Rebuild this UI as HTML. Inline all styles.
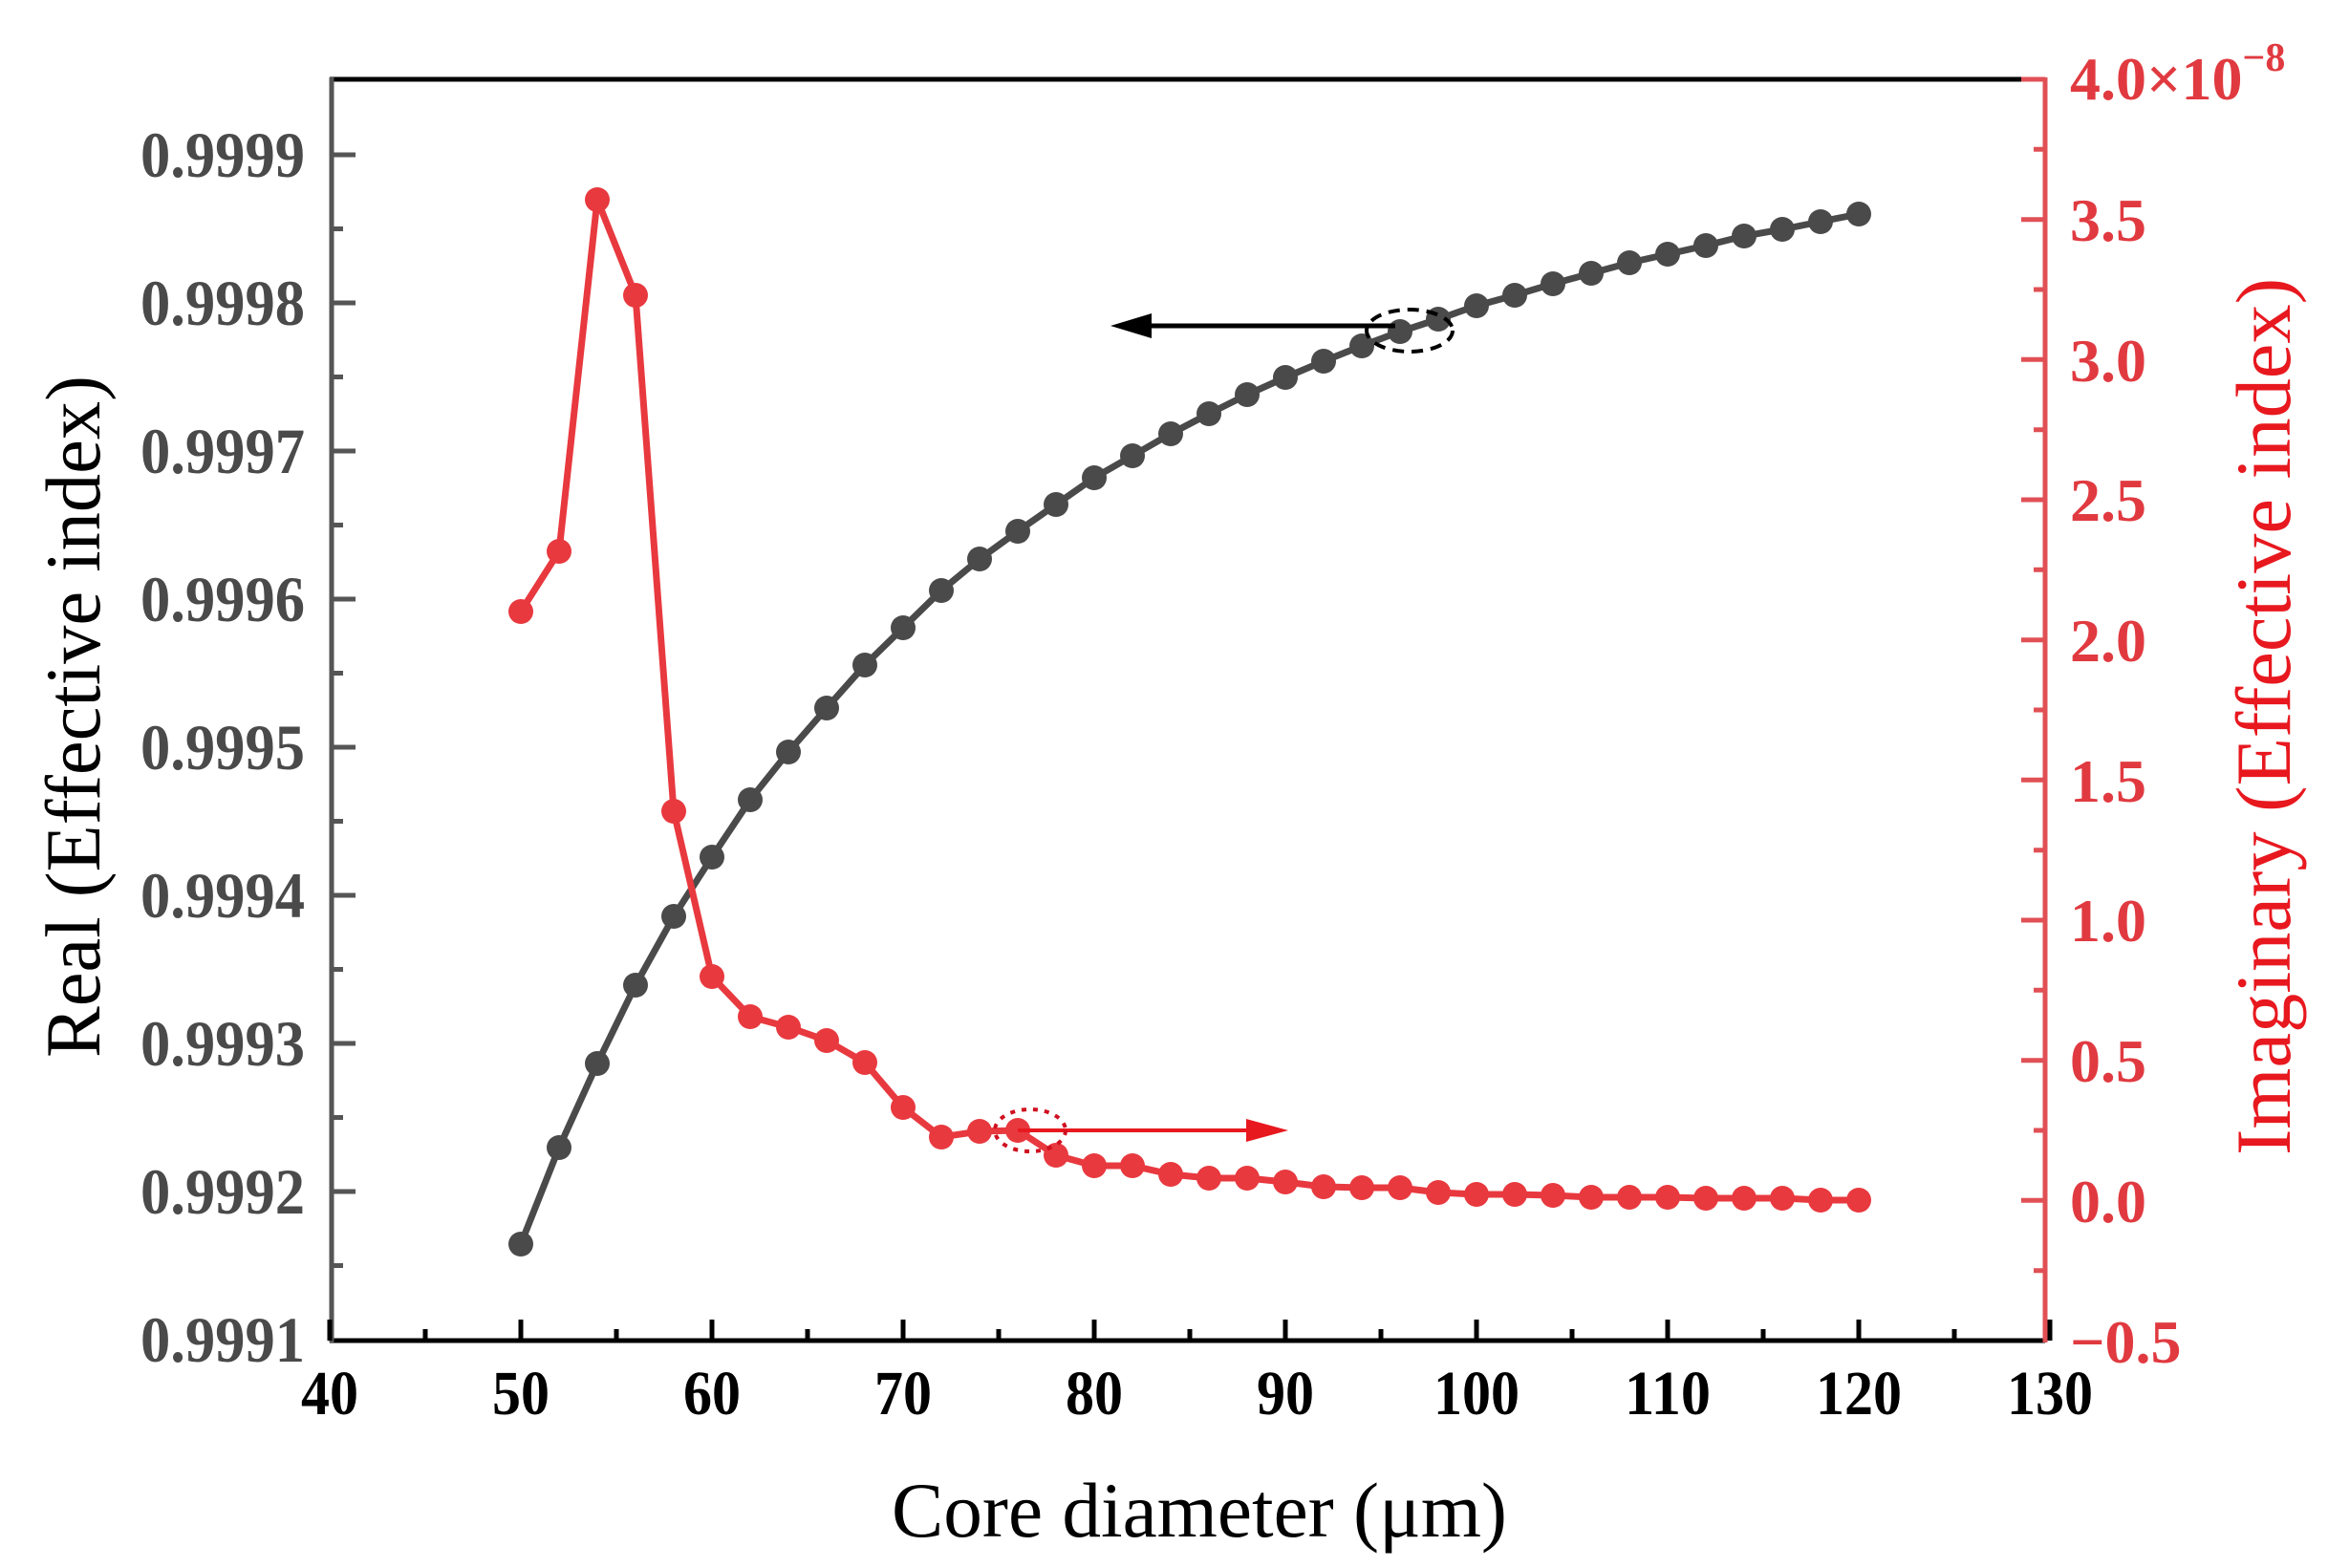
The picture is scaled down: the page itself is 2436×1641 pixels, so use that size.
<!DOCTYPE html>
<html><head><meta charset="utf-8"><style>html,body{margin:0;padding:0;background:#fff}svg{display:block}</style></head>
<body>
<svg width="2436" height="1641" viewBox="0 0 2436 1641" xmlns="http://www.w3.org/2000/svg" font-family="'Liberation Serif', serif">
<rect width="2436" height="1641" fill="#fff"/>
<!-- series black -->
<g fill="#4a4a4a" stroke="#4a4a4a">
<polyline fill="none" stroke-width="7" points="545,1302 585,1201 625,1113 665,1031 705,959 745,897 785,837 825,787 865,741 905,696 945,657 985,618 1025,585 1065,556 1105,528 1145,500 1185,477 1225,454 1265,433 1305,413 1345,395 1385,378 1425,362 1465,347 1505,334 1545,320 1585,309 1625,297 1665,286 1705,275 1745,266 1785,257 1825,247 1865,240 1905,232 1945,224"/>
<g stroke="none">
<circle cx="545" cy="1302" r="13"/><circle cx="585" cy="1201" r="13"/><circle cx="625" cy="1113" r="13"/><circle cx="665" cy="1031" r="13"/><circle cx="705" cy="959" r="13"/><circle cx="745" cy="897" r="13"/><circle cx="785" cy="837" r="13"/><circle cx="825" cy="787" r="13"/><circle cx="865" cy="741" r="13"/><circle cx="905" cy="696" r="13"/><circle cx="945" cy="657" r="13"/><circle cx="985" cy="618" r="13"/><circle cx="1025" cy="585" r="13"/><circle cx="1065" cy="556" r="13"/><circle cx="1105" cy="528" r="13"/><circle cx="1145" cy="500" r="13"/><circle cx="1185" cy="477" r="13"/><circle cx="1225" cy="454" r="13"/><circle cx="1265" cy="433" r="13"/><circle cx="1305" cy="413" r="13"/><circle cx="1345" cy="395" r="13"/><circle cx="1385" cy="378" r="13"/><circle cx="1425" cy="362" r="13"/><circle cx="1465" cy="347" r="13"/><circle cx="1505" cy="334" r="13"/><circle cx="1545" cy="320" r="13"/><circle cx="1585" cy="309" r="13"/><circle cx="1625" cy="297" r="13"/><circle cx="1665" cy="286" r="13"/><circle cx="1705" cy="275" r="13"/><circle cx="1745" cy="266" r="13"/><circle cx="1785" cy="257" r="13"/><circle cx="1825" cy="247" r="13"/><circle cx="1865" cy="240" r="13"/><circle cx="1905" cy="232" r="13"/><circle cx="1945" cy="224" r="13"/>
</g></g>
<!-- series red -->
<g fill="#e8393f" stroke="#e8393f">
<polyline fill="none" stroke-width="7" points="545,640 585,577 625,209 665,309 705,849 745,1022 785,1064 825,1075 865,1089 905,1112 945,1159 985,1190 1025,1184 1065,1183 1105,1209 1145,1220 1185,1220 1225,1229 1265,1233 1305,1233 1345,1237 1385,1242 1425,1243 1465,1243 1505,1248 1545,1250 1585,1250 1625,1251 1665,1253 1705,1253 1745,1253 1785,1254 1825,1254 1865,1254 1905,1256 1945,1256"/>
<g stroke="none">
<circle cx="545" cy="640" r="13"/><circle cx="585" cy="577" r="13"/><circle cx="625" cy="209" r="13"/><circle cx="665" cy="309" r="13"/><circle cx="705" cy="849" r="13"/><circle cx="745" cy="1022" r="13"/><circle cx="785" cy="1064" r="13"/><circle cx="825" cy="1075" r="13"/><circle cx="865" cy="1089" r="13"/><circle cx="905" cy="1112" r="13"/><circle cx="945" cy="1159" r="13"/><circle cx="985" cy="1190" r="13"/><circle cx="1025" cy="1184" r="13"/><circle cx="1065" cy="1183" r="13"/><circle cx="1105" cy="1209" r="13"/><circle cx="1145" cy="1220" r="13"/><circle cx="1185" cy="1220" r="13"/><circle cx="1225" cy="1229" r="13"/><circle cx="1265" cy="1233" r="13"/><circle cx="1305" cy="1233" r="13"/><circle cx="1345" cy="1237" r="13"/><circle cx="1385" cy="1242" r="13"/><circle cx="1425" cy="1243" r="13"/><circle cx="1465" cy="1243" r="13"/><circle cx="1505" cy="1248" r="13"/><circle cx="1545" cy="1250" r="13"/><circle cx="1585" cy="1250" r="13"/><circle cx="1625" cy="1251" r="13"/><circle cx="1665" cy="1253" r="13"/><circle cx="1705" cy="1253" r="13"/><circle cx="1745" cy="1253" r="13"/><circle cx="1785" cy="1254" r="13"/><circle cx="1825" cy="1254" r="13"/><circle cx="1865" cy="1254" r="13"/><circle cx="1905" cy="1256" r="13"/><circle cx="1945" cy="1256" r="13"/>
</g></g>
<!-- annotations -->
<line x1="1195" y1="341" x2="1460" y2="341" stroke="#000" stroke-width="5"/>
<polygon points="1162,341 1205,328 1205,354" fill="#000"/>
<ellipse cx="1475" cy="346" rx="45" ry="22" fill="none" stroke="#000" stroke-width="4" stroke-dasharray="12,8"/>
<line x1="1065" y1="1183" x2="1320" y2="1183" stroke="#e8181f" stroke-width="4"/>
<polygon points="1348,1183 1304,1171 1304,1195" fill="#e8181f"/>
<ellipse cx="1078" cy="1183" rx="37" ry="22" fill="none" stroke="#d01020" stroke-width="4" stroke-dasharray="5,7"/>
<!-- axes -->
<line x1="345" y1="83" x2="2140" y2="83" stroke="#000" stroke-width="5"/>
<line x1="345" y1="1403" x2="2140" y2="1403" stroke="#000" stroke-width="5"/>
<line x1="347" y1="81" x2="347" y2="1405" stroke="#555" stroke-width="5"/>
<line x1="2140" y1="81" x2="2140" y2="1405" stroke="#e05055" stroke-width="5"/>
<g stroke="#000" stroke-width="5">
<path d="M345,1403v-22M545,1403v-22M745,1403v-22M945,1403v-22M1145,1403v-22M1345,1403v-22M1545,1403v-22M1745,1403v-22M1945,1403v-22M2145,1403v-22"/>
<path d="M445,1403v-12M645,1403v-12M845,1403v-12M1045,1403v-12M1245,1403v-12M1445,1403v-12M1645,1403v-12M1845,1403v-12M2045,1403v-12"/>
</g>
<g stroke="#555" stroke-width="5">
<path d="M347,162h25M347,317h25M347,472h25M347,627h25M347,782h25M347,937h25M347,1092h25M347,1247h25"/>
<path d="M347,239.5h12M347,394.5h12M347,549.5h12M347,704.5h12M347,859.5h12M347,1014.5h12M347,1169.5h12M347,1324.5h12"/>
</g>
<g stroke="#e05055" stroke-width="5">
<path d="M2140,83h-25M2140,229.7h-25M2140,376.3h-25M2140,523h-25M2140,669.7h-25M2140,816.3h-25M2140,963h-25M2140,1109.7h-25M2140,1256.3h-25"/>
<path d="M2140,156.3h-12M2140,303h-12M2140,449.7h-12M2140,596.3h-12M2140,743h-12M2140,889.7h-12M2140,1036.3h-12M2140,1183h-12M2140,1329.7h-12"/>
</g>
<!-- tick labels -->
<g font-size="68" font-weight="bold" fill="#4a4a4a" lengthAdjust="spacingAndGlyphs">
<text x="147" y="185" textLength="172" lengthAdjust="spacingAndGlyphs">0.9999</text><text x="147" y="340" textLength="172" lengthAdjust="spacingAndGlyphs">0.9998</text><text x="147" y="495" textLength="172" lengthAdjust="spacingAndGlyphs">0.9997</text><text x="147" y="650" textLength="172" lengthAdjust="spacingAndGlyphs">0.9996</text><text x="147" y="805" textLength="172" lengthAdjust="spacingAndGlyphs">0.9995</text><text x="147" y="960" textLength="172" lengthAdjust="spacingAndGlyphs">0.9994</text><text x="147" y="1115" textLength="172" lengthAdjust="spacingAndGlyphs">0.9993</text><text x="147" y="1270" textLength="172" lengthAdjust="spacingAndGlyphs">0.9992</text><text x="147" y="1425" textLength="172" lengthAdjust="spacingAndGlyphs">0.9991</text>
</g>
<g font-size="66" font-weight="bold" fill="#000">
<text x="315" y="1480" textLength="60" lengthAdjust="spacingAndGlyphs">40</text><text x="515" y="1480" textLength="60" lengthAdjust="spacingAndGlyphs">50</text><text x="715" y="1480" textLength="60" lengthAdjust="spacingAndGlyphs">60</text><text x="915" y="1480" textLength="60" lengthAdjust="spacingAndGlyphs">70</text><text x="1115" y="1480" textLength="60" lengthAdjust="spacingAndGlyphs">80</text><text x="1315" y="1480" textLength="60" lengthAdjust="spacingAndGlyphs">90</text><text x="1500" y="1480" textLength="90" lengthAdjust="spacingAndGlyphs">100</text><text x="1700" y="1480" textLength="90" lengthAdjust="spacingAndGlyphs">110</text><text x="1900" y="1480" textLength="90" lengthAdjust="spacingAndGlyphs">120</text><text x="2100" y="1480" textLength="90" lengthAdjust="spacingAndGlyphs">130</text>
</g>
<g font-size="64" font-weight="bold" fill="#e03a40">
<text x="2166" y="104">4.0×10<tspan font-size="42" dy="-30">−8</tspan></text>
<text x="2166" y="252">3.5</text><text x="2166" y="399">3.0</text><text x="2166" y="545">2.5</text><text x="2166" y="692">2.0</text><text x="2166" y="839">1.5</text><text x="2166" y="985">1.0</text><text x="2166" y="1132">0.5</text><text x="2166" y="1279">0.0</text><text x="2166" y="1426">−0.5</text>
</g>
<!-- axis titles -->
<text x="933" y="1608" font-size="82" textLength="644" lengthAdjust="spacingAndGlyphs" fill="#000">Core diameter (μm)</text>
<text transform="translate(104,1107) rotate(-90)" font-size="82" textLength="714" lengthAdjust="spacingAndGlyphs" fill="#000">Real (Effective index)</text>
<text transform="translate(2396,1209) rotate(-90)" font-size="82" textLength="918" lengthAdjust="spacingAndGlyphs" fill="#e8181f">Imaginary (Effective index)</text>
</svg>
</body></html>
